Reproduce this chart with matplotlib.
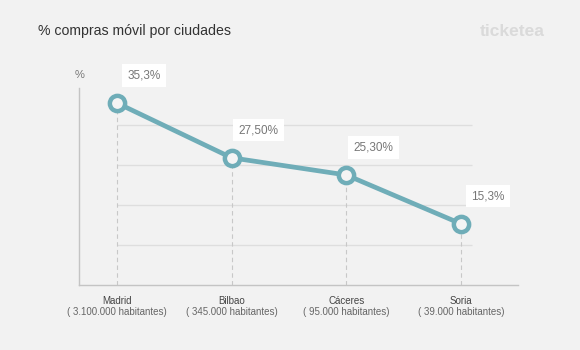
import matplotlib.pyplot as plt

plt.rcParams['font.family'] = ['Liberation Sans', 'DejaVu Sans']

cities = ['Madrid', 'Bilbao', 'Cáceres', 'Soria']
habitantes = ['( 3.100.000 habitantes)', '( 345.000 habitantes)',
              '( 95.000 habitantes)', '( 39.000 habitantes)']
# heights as drawn in the picture (chart is not to scale)
heights = [45.5, 31.8, 27.5, 15.3]
value_labels = ['35,3%', '27,50%', '25,30%', '15,3%']
grid_levels = [10, 20, 30, 40]

bg = '#f2f2f2'
teal = '#6fadb8'

fig = plt.figure(figsize=(5.8, 3.5), dpi=100, facecolor=bg)
ax = fig.add_axes([79 / 580, 65 / 350, 439 / 580, 197 / 350])
ax.set_facecolor(bg)

x = list(range(len(cities)))
ax.set_xlim(-0.331, 3.497)
ax.set_ylim(0, 49.25)

ax.hlines(grid_levels, 0, 3.1, color='#dedede', lw=1, zorder=1)
for xi, h in zip(x, heights):
    ax.vlines(xi, 0, h, color='#c8c8c8', lw=0.8, linestyles=(0, (4, 3)), zorder=1)

ax.plot(x, heights, color=teal, lw=3.4, marker='o', markersize=11,
        markerfacecolor='#f4f4f4', markeredgecolor=teal, markeredgewidth=3.2,
        zorder=3, solid_capstyle='round')

for xi, h, lab in zip(x, heights, value_labels):
    ax.annotate(lab, (xi, h), xytext=(19.5, 20), textcoords='offset points',
                ha='center', va='center', fontsize=8.5, color='#777777',
                bbox=dict(boxstyle='square,pad=0.45', fc='white', ec='none'))

for xi, c, hb in zip(x, cities, habitantes):
    ax.annotate(c, (xi, 0), xytext=(0, -11.5), textcoords='offset points',
                ha='center', va='center', fontsize=7, color='#444444',
                annotation_clip=False)
    ax.annotate(hb, (xi, 0), xytext=(0, -19.5), textcoords='offset points',
                ha='center', va='center', fontsize=7, color='#666666',
                annotation_clip=False)

for s in ['top', 'right']:
    ax.spines[s].set_visible(False)
for s in ['left', 'bottom']:
    ax.spines[s].set_color('#c4c4c4')
    ax.spines[s].set_linewidth(1)
ax.set_xticks([])
ax.set_yticks([])

fig.text(38 / 580, 1 - 31 / 350, '% compras móvil por ciudades', fontsize=10.2,
         color='#333333', ha='left', va='center')
fig.text(545 / 580, 1 - 32 / 350, 'ticketea', fontsize=12.5, fontweight='bold',
         color='#dadada', ha='right', va='center')
fig.text(80 / 580, 1 - 75 / 350, '%', fontsize=8, color='#777777',
         ha='center', va='center')

fig.savefig('out.png', dpi=100, facecolor=bg)
